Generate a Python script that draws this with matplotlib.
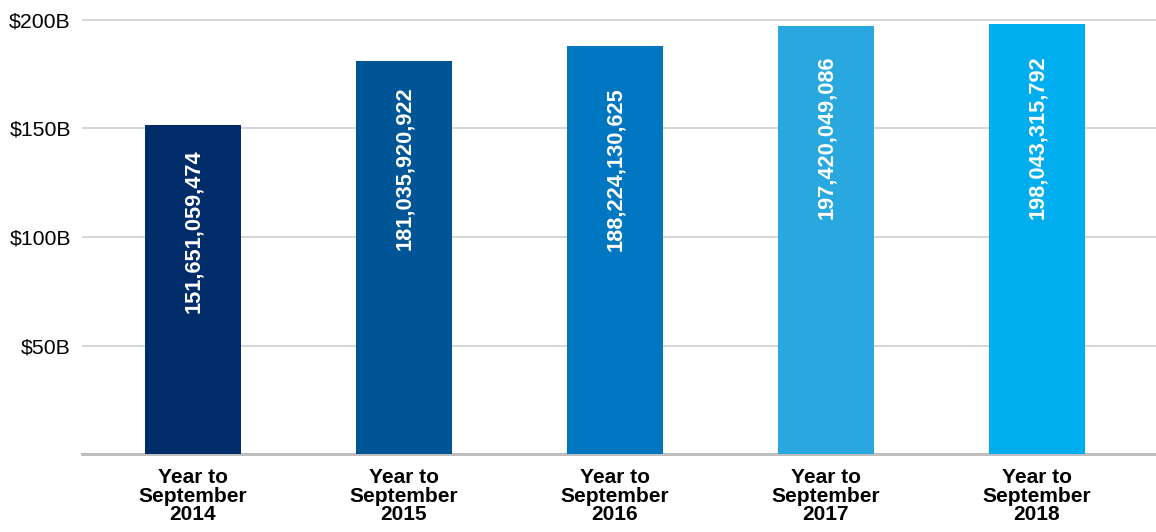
import matplotlib
matplotlib.use("Agg")
import matplotlib.pyplot as plt

categories = ["Year to\nSeptember\n2014", "Year to\nSeptember\n2015", "Year to\nSeptember\n2016",
              "Year to\nSeptember\n2017", "Year to\nSeptember\n2018"]
values = [151651059474, 181035920922, 188224130625, 197420049086, 198043315792]
colors = ["#002d6a", "#005596", "#0077c0", "#29a8e0", "#00aeef"]
yticks = [50, 100, 150, 200]
ytick_labels = ["$50B", "$100B", "$150B", "$200B"]

# label offsets below bar top (points), styling only
label_offsets = [17.3, 18.5, 29.7, 21.2, 22.1]

plt.rcParams['font.family'] = ['Liberation Sans', 'DejaVu Sans']

fig = plt.figure(figsize=(11.56, 5.32), dpi=100)
ax = fig.add_axes([0.0709, 0.1466, 1 - 0.0709, 0.9665 - 0.1466])

x = list(range(len(values)))
vals_b = [v / 1e9 for v in values]
ax.bar(x, vals_b, width=0.455, color=colors, zorder=3)

for xi, v, raw, off in zip(x, vals_b, values, label_offsets):
    ax.annotate(f"{raw:,}", xy=(xi, v), xytext=(0.7, -off), textcoords="offset points",
                rotation=90, ha="center", va="top", color="white",
                fontsize=15.7, fontweight="bold", zorder=4)

ax.set_xlim(-0.526, 4.564)
ax.set_ylim(0, 201)
ax.set_yticks(yticks)
ax.set_yticklabels(ytick_labels, fontsize=15.3)
ax.set_xticks(x)
ax.set_xticklabels(categories, fontsize=15, fontweight="bold", linespacing=0.98)
ax.tick_params(axis="y", length=0, pad=8)
ax.tick_params(axis="x", length=0, pad=10)
ax.grid(axis="y", color="#cccccc", linewidth=1.1, zorder=0)
for s in ax.spines.values():
    s.set_visible(False)
ax.axhline(0, color="#bfbfbf", linewidth=2.2, zorder=2, clip_on=False)

fig.savefig("out.png", dpi=100)
